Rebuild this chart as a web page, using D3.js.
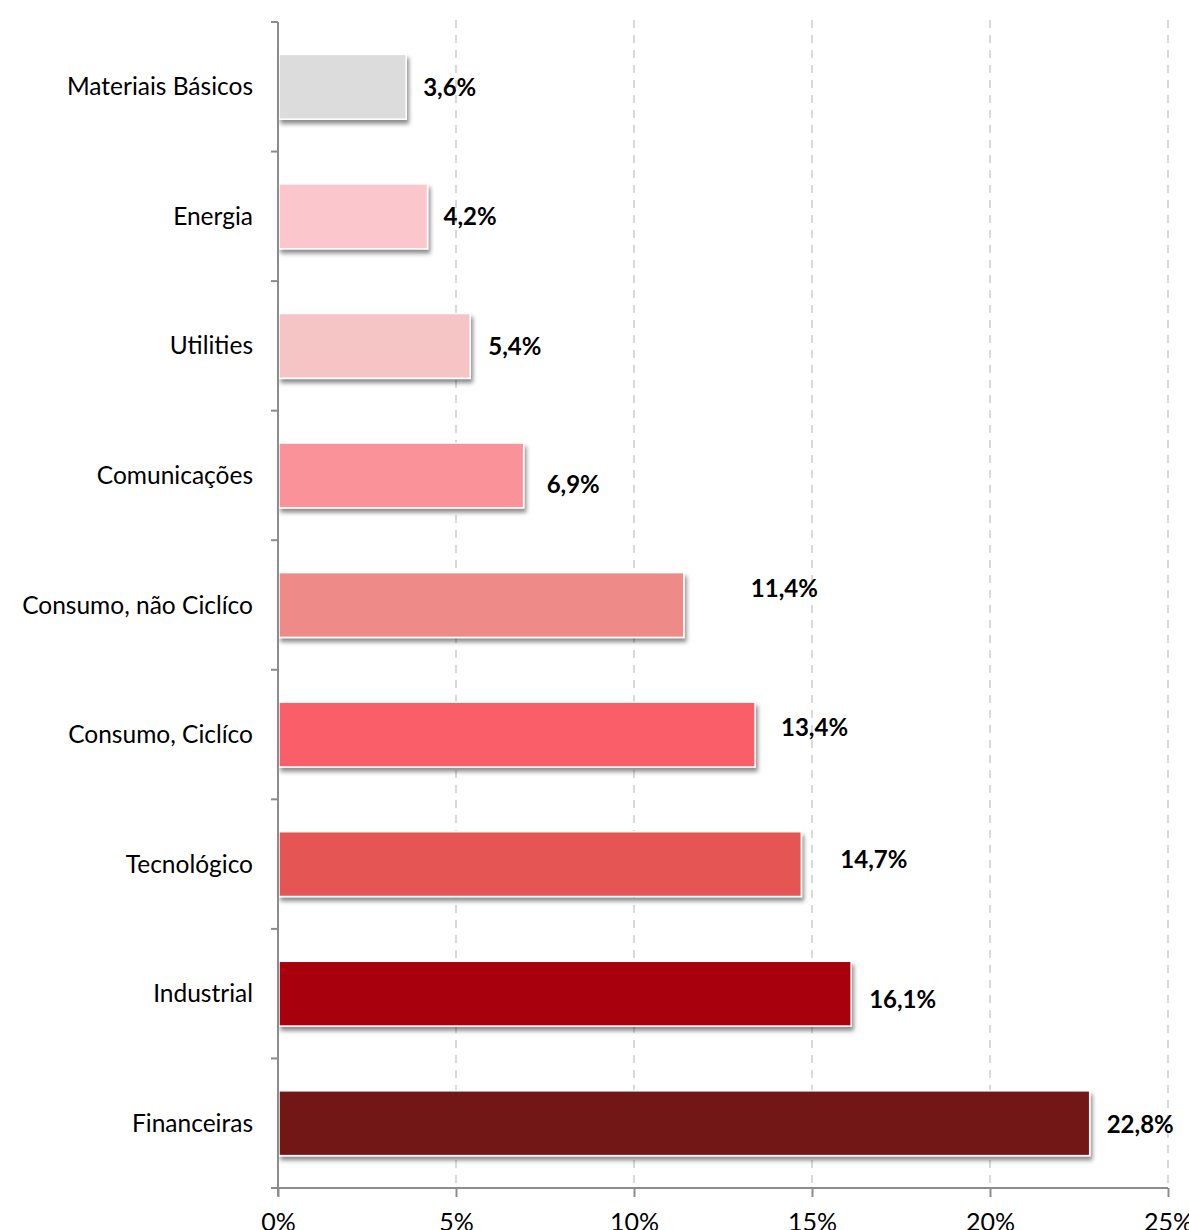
<!DOCTYPE html>
<html>
<head>
<meta charset="utf-8">
<script src="https://cdn.jsdelivr.net/npm/d3@7"></script>
<style>
  html, body { margin: 0; padding: 0; background: #fff; }
  svg { display: block; font-family: Lato, "Open Sans", sans-serif; }
</style>
</head>
<body>
<div id="chart"></div>
<script>
// Sector weights, top to bottom
const sectors = [
    'Materiais Básicos',
    'Energia',
    'Utilities',
    'Comunicações',
    'Consumo, não Ciclíco',
    'Consumo, Ciclíco',
    'Tecnológico',
    'Industrial',
    'Financeiras'
]
const weights = [3.6, 4.2, 5.4, 6.9, 11.4, 13.4, 14.7, 16.1, 22.8]
const xTicks = [0, 5, 10, 15, 20, 25]

const barColors = [
    '#dcdcdc', '#fcc7cc', '#f5c4c4', '#fa9399', '#ee8b88',
    '#fa5f69', '#e45552', '#a80510', '#731212'
]

// Excel-style hand-placed data labels: [dx from bar end, dy from bar middle]
const labelNudge = [
    [17, 1], [16, 0], [18, 1], [23, 9], [67, -16],
    [26, -7], [39, -5], [18, 6], [17, 1]
]

const WIDTH = 1189
const HEIGHT = 1230
const LEFT = 278
const RIGHT = 1168
const TOP = 22
const BOTTOM = 1188

const fmt = v => v.toFixed(1).replace('.', ',') + '%'

const svg = d3.select('#chart')
    .append('svg')
    .attr('width', WIDTH)
    .attr('height', HEIGHT)

const defs = svg.append('defs')
const shadow = defs.append('filter')
    .attr('id', 'shadow')
    .attr('x', '-5%').attr('y', '-20%')
    .attr('width', '115%').attr('height', '150%')
shadow.append('feDropShadow')
    .attr('dx', 2).attr('dy', 4)
    .attr('stdDeviation', 2.2)
    .attr('flood-color', '#000')
    .attr('flood-opacity', 0.45)

const x = d3.scaleLinear().domain([0, 25]).range([LEFT, RIGHT])
const y = d3.scaleBand()
    .domain(sectors)
    .range([TOP, BOTTOM])
    .paddingInner(0.5)
    .paddingOuter(0.25)

// Dashed vertical gridlines
svg.append('g')
    .selectAll('line')
    .data(xTicks.slice(1))
    .join('line')
    .attr('x1', d => x(d)).attr('x2', d => x(d))
    .attr('y1', 20).attr('y2', BOTTOM)
    .attr('stroke', '#d9d9d9')
    .attr('stroke-width', 2)
    .attr('stroke-dasharray', '8,7')

// Bars
const rows = sectors.map((s, i) => ({ sector: s, value: weights[i], i }))

svg.append('g')
    .selectAll('rect')
    .data(rows)
    .join('rect')
    .attr('x', x(0) + 1)
    .attr('y', d => y(d.sector))
    .attr('width', d => x(d.value) - x(0) - 1)
    .attr('height', y.bandwidth())
    .attr('fill', d => barColors[d.i])
    .attr('stroke', '#fff')
    .attr('stroke-width', 1.5)
    .attr('filter', 'url(#shadow)')

// Value labels
svg.append('g')
    .selectAll('text')
    .data(rows)
    .join('text')
    .attr('x', d => x(d.value) + labelNudge[d.i][0])
    .attr('y', d => y(d.sector) + y.bandwidth() / 2 + labelNudge[d.i][1])
    .attr('dy', '0.35em')
    .attr('font-size', 24)
    .attr('font-weight', 'bold')
    .attr('fill', '#000')
    .text(d => fmt(d.value))

// Category labels
svg.append('g')
    .selectAll('text')
    .data(rows)
    .join('text')
    .attr('x', LEFT - 25)
    .attr('y', d => y(d.sector) + y.bandwidth() / 2)
    .attr('dy', '0.35em')
    .attr('text-anchor', 'end')
    .attr('font-size', 24.5)
    .attr('fill', '#000')
    .text(d => d.sector)

// Y axis line and category boundary ticks
const axisColor = '#8c8c8c'
const yAxis = svg.append('g')
yAxis.append('line')
    .attr('x1', LEFT).attr('x2', LEFT)
    .attr('y1', TOP).attr('y2', BOTTOM + 8)
    .attr('stroke', axisColor)
    .attr('stroke-width', 2)
yAxis.selectAll('.ytick')
    .data(d3.range(sectors.length + 1))
    .join('line')
    .attr('class', 'ytick')
    .attr('x1', LEFT - 7).attr('x2', LEFT)
    .attr('y1', i => y.range()[0] + i * y.step())
    .attr('y2', i => y.range()[0] + i * y.step())
    .attr('stroke', axisColor)
    .attr('stroke-width', 2)

// X axis
const xAxis = svg.append('g')
    .attr('transform', `translate(0,${BOTTOM})`)
    .call(d3.axisBottom(x)
        .tickValues(xTicks)
        .tickSize(9)
        .tickPadding(16)
        .tickFormat(d => d + '%'))
xAxis.select('.domain')
    .attr('stroke', axisColor)
    .attr('stroke-width', 2)
    .attr('d', `M${LEFT - 7},0H${RIGHT}`)
xAxis.selectAll('.tick line')
    .attr('stroke', axisColor)
    .attr('stroke-width', 2)
xAxis.selectAll('.tick text')
    .attr('font-size', 25)
    .attr('font-family', 'Lato, "Open Sans", sans-serif')
    .attr('fill', '#000')
</script>
</body>
</html>
